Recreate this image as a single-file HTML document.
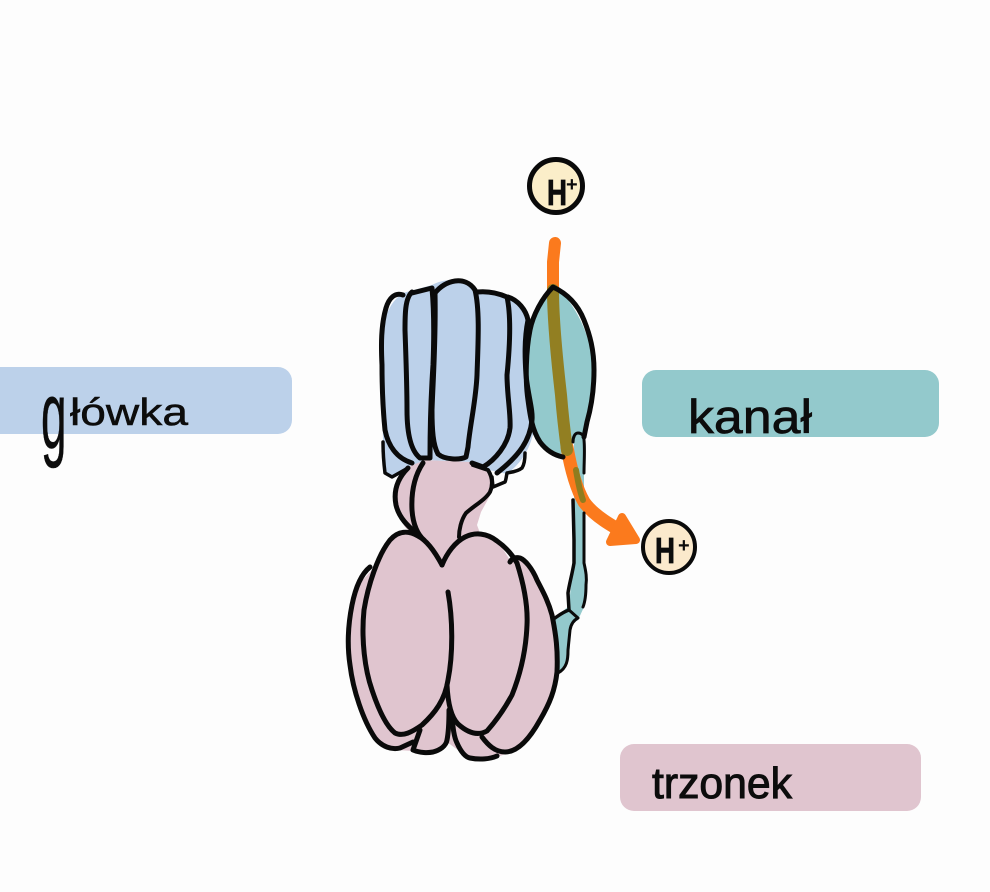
<!DOCTYPE html>
<html lang="pl">
<head>
<meta charset="utf-8">
<title>Diagram</title>
<style>
html,body{margin:0;padding:0;background:#fdfdfd;}
svg{display:block;}
text{font-family:"Liberation Sans",sans-serif;fill:#0c0c0c;}
</style>
</head>
<body>
<svg width="990" height="892" viewBox="0 0 990 892" xmlns="http://www.w3.org/2000/svg">
<rect width="990" height="892" fill="#fdfdfd"/>

<!-- label boxes -->
<rect x="-20" y="367" width="312" height="67" rx="14" fill="#bcd1ea"/>
<rect x="642" y="370" width="297" height="67" rx="14" fill="#93c9cc"/>
<rect x="620" y="744" width="301" height="67" rx="14" fill="#e0c5cf"/>

<text transform="translate(41,448) scale(1.15,2.4)" font-size="40" stroke="#0c0c0c" stroke-width=".2">g</text>
<text x="70" y="425" font-size="38" textLength="118" lengthAdjust="spacingAndGlyphs" stroke="#0c0c0c" stroke-width=".5">łówka</text>
<text x="688" y="433" font-size="47" textLength="124" lengthAdjust="spacingAndGlyphs" stroke="#0c0c0c" stroke-width=".7">kanał</text>
<text x="652" y="798" font-size="44" textLength="140" lengthAdjust="spacingAndGlyphs" stroke="#0c0c0c" stroke-width="1">trzonek</text>

<!-- fills -->
<g stroke="none">
  <path fill="#e0c5cf" d="M408 466 C398 476 393 490 396 505 C400 520 405 530 412 533 L403 531 C392 535 382 550 372 570 L358 585 C348 610 346 650 352 680 C360 715 375 745 397 750 L413 751 L433 753 L447 742 L470 759 L497 757 L520 749 C535 738 550 705 556 677 C558 640 550 600 535 577 L522 558 L510 560 L497 540 L480 533 L477 525 L481 512 L492 492 L490 470 L473 462 L425 460 Z"/>
  <path fill="#bcd1ea" d="M403 293 L432 285 C445 278 465 277 477 291 L507 296 C520 298 528 310 530 322 L526 370 L536 420 C532 445 525 460 507 474 L480 468 L473 462 L425 460 L408 467 L392 478 L385 472 L383 440 L381 360 C380 330 385 305 403 293 Z"/>
  <path fill="#93c9cc" d="M553 287 C570 295 590 330 594 367 C594 395 592 410 587 425 L584 440 L584 500 L584 563 L587 580 L584 607 L578 620 L571 625 L569 660 L557 674 L552 620 L569 606 L573 563 L574 500 L574 440 L563 457 C545 455 535 435 532 420 C525 390 525 345 532 320 C537 305 545 295 553 287 Z"/>
</g>

<!-- orange arrow under outlines -->
<g fill="none" stroke-linecap="round" stroke-linejoin="round">
  <path stroke="#fb7a1d" stroke-width="12" d="M555 243 L553 262 L553 290"/>
  <path stroke="#fb7a1d" stroke-width="13" d="M567 447 C571 470 576 488 584 502 C594 516 612 526 630 536"/>
  <path stroke="#fb7a1d" fill="#fb7a1d" stroke-width="8" d="M622 517 L636 540 L610 542 Z"/>
  <path stroke="#927f22" stroke-width="12" d="M553 290 C553 320 557 360 561 395 C563 420 565 435 567 450"/>
  <path stroke="#907c1e" stroke-width="6" d="M576 470 C578 482 580 492 583 500"/>
</g>

<!-- outlines -->
<g fill="none" stroke="#0a0a0a" stroke-width="5" stroke-linecap="round" stroke-linejoin="round">
  <!-- head -->
  <path d="M403 295 C395 292 389 298 386 308 C381 325 381 345 382 365 C382 390 383 410 385 430 C388 445 396 458 412 463"/>
  <path d="M412 292 C405 298 405 315 405 330 C406 360 407 385 407 410 C407 430 410 450 420 458 L430 458"/>
  <path d="M412 293 L432 288 C434 310 434 340 433 365 C431 395 430 430 430 457"/>
  <path stroke-width="5" d="M435 293 C445 280 465 275 475 290 C480 310 478 345 477 375 C476 400 470 425 468 447 L466 457 C460 460 445 460 438 454 C433 445 432 430 432 410 C433 380 436 340 435 293 Z"/>
  <path d="M477 292 C487 291 498 293 507 297 C511 315 510 345 507 375 C507 395 511 415 510 428 C508 445 495 460 483 467 L472 463"/>
  <path d="M508 297 C518 300 526 310 528 320 C524 340 525 360 526 375 C528 395 533 410 532 420 C530 440 520 455 497 473"/>
  <path stroke-width="3.5" d="M383 442 C383 455 384 465 385 473 L392 477 L408 468"/>
  <path stroke-width="3.5" d="M525 453 C525 460 524 465 522 468 C517 472 511 472 507 473 C506 478 506 480 505 482 L493 487 L492 477"/>
  <!-- neck -->
  <path d="M423 463 C415 475 411 490 412 510 C413 525 418 535 424 540"/>
  <path d="M408 468 C398 478 393 490 396 505 C399 518 408 526 417 534"/>
  <path stroke-width="4" d="M473 465 L488 470 C493 478 493 485 490 492 C485 500 475 505 466 513 C461 520 459 530 459 537"/>
  <!-- body -->
  <path d="M442 565 C434 550 426 540 418 536 C408 530 398 531 390 540 C378 555 368 585 364 610 C361 640 365 670 372 690 C378 708 386 726 395 733 C403 737 412 732 422 725 C435 713 445 700 448 680 C453 655 453 620 448 592"/>
  <path d="M442 565 C447 553 455 542 465 537 C475 532 487 533 497 541 C507 548 513 556 517 563 C524 585 528 605 527 625 C526 650 520 675 512 695 C505 708 495 722 487 731 C478 736 468 733 458 724 C452 718 448 705 447 685"/>
  <path d="M370 567 C360 575 355 590 352 605 C348 625 347 645 350 665 C353 690 363 720 375 738 C382 747 392 750 400 748 L413 742"/>
  <path d="M420 730 L413 750 C420 753 428 753 433 752 C440 750 446 746 447 740 C449 730 449 720 449 710"/>
  <path d="M452 717 C453 728 454 737 457 743 C461 752 465 757 470 758 C480 760 490 759 497 756"/>
  <path d="M482 737 C488 745 495 752 505 752 C518 752 530 738 540 720 C550 703 555 690 557 672 C558 650 556 635 552 615 C548 600 542 590 537 580 C532 568 525 560 520 558 C516 557 512 558 510 562"/>
  <!-- teal -->
  <path d="M563 457 C553 455 546 450 540 442 C532 430 530 415 528 400 C525 380 526 350 530 330 C533 315 542 298 553 287 C568 294 578 305 584 320 C590 335 594 350 594 370 C594 390 591 408 587 422 L584 437"/>
  <path stroke-width="3" d="M573 442 C573 437 575 433 578 433 C582 433 584 436 584 440 C585 450 584 462 584 473"/>
  <path stroke-width="3.5" d="M573 500 L574 540 L574 563 C572 575 569 585 568 593 L569 610 C563 612 558 616 555 618"/>
  <path stroke-width="3" d="M584 513 L584 563 C586 572 587 578 586 585 C586 595 585 602 583 607"/>
  <path stroke-width="3" d="M569 610 L578 618 C574 620 571 624 570 630 L568 650 C568 660 567 668 558 673"/>
</g>

<!-- H+ circles -->
<circle cx="556" cy="186" r="26.5" fill="#fbeec9" stroke="#0a0a0a" stroke-width="5"/>
<circle cx="669" cy="547" r="26" fill="#fbe9cc" stroke="#0a0a0a" stroke-width="4"/>
<text x="547" y="205" font-size="36" font-weight="bold" stroke="#0a0a0a" stroke-width=".8" textLength="20" lengthAdjust="spacingAndGlyphs">H</text>
<text x="566" y="191" font-size="20" font-weight="bold">+</text>
<text x="655" y="563" font-size="36" font-weight="bold" stroke="#0a0a0a" stroke-width=".8" textLength="20" lengthAdjust="spacingAndGlyphs">H</text>
<text x="678" y="552" font-size="20" font-weight="bold">+</text>
</svg>
</body>
</html>
